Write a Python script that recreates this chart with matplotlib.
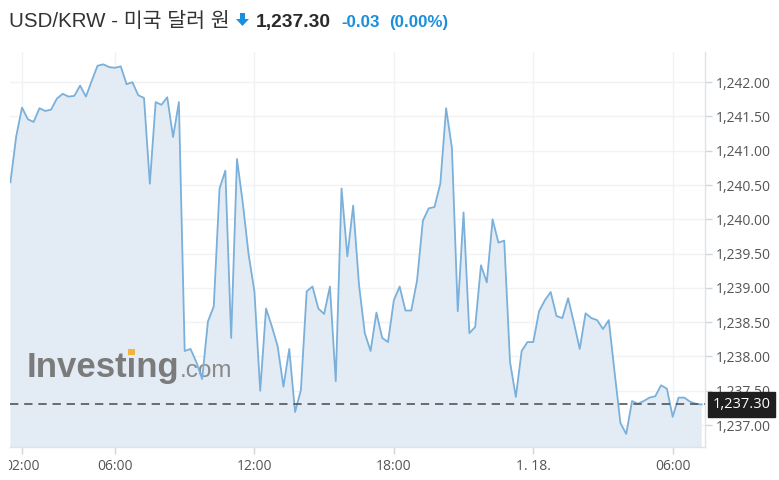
import matplotlib
matplotlib.use("Agg")
import matplotlib.pyplot as plt
import matplotlib.dates as mdates
from matplotlib.patches import Polygon, Rectangle
from matplotlib.transforms import Bbox, TransformedBbox
import numpy as np
import pandas as pd

# USD/KRW intraday quotes, 15 minute steps starting 17 Jan 01:30
start = "2023-01-17 01:30"
prices = [
    1240.54, 1241.21, 1241.63, 1241.46, 1241.42, 1241.62, 1241.58, 1241.60,
    1241.76, 1241.83, 1241.79, 1241.80, 1241.95, 1241.79, 1242.02, 1242.24,
    1242.26, 1242.22, 1242.21, 1242.23, 1241.97, 1242.00, 1241.81, 1241.77,
    1240.52, 1241.71, 1241.67, 1241.78, 1241.20, 1241.71, 1238.08, 1238.11,
    1237.92, 1237.67, 1238.51, 1238.73, 1240.45, 1240.71, 1238.27, 1240.88,
    1240.24, 1239.49, 1238.95, 1237.50, 1238.70, 1238.44, 1238.15, 1237.56,
    1238.11, 1237.19, 1237.51, 1238.95, 1239.02, 1238.70, 1238.62, 1239.02,
    1237.64, 1240.45, 1239.46, 1240.20, 1239.05, 1238.34, 1238.08, 1238.64,
    1238.27, 1238.21, 1238.82, 1239.02, 1238.67, 1238.67, 1239.11, 1239.98,
    1240.16, 1240.18, 1240.52, 1241.62, 1241.04, 1238.66, 1240.10, 1238.34,
    1238.43, 1239.33, 1239.08, 1240.00, 1239.66, 1239.69, 1237.92, 1237.41,
    1238.08, 1238.21, 1238.21, 1238.66, 1238.82, 1238.94, 1238.59, 1238.56,
    1238.85, 1238.49, 1238.11, 1238.63, 1238.56, 1238.53, 1238.40, 1238.53,
    1237.77, 1237.03, 1236.87, 1237.35, 1237.31, 1237.35, 1237.40, 1237.42,
    1237.58, 1237.53, 1237.12, 1237.40, 1237.40, 1237.34, 1237.31, 1237.30,
]
times = pd.date_range(start, periods=len(prices), freq="15min")

last_price = 1237.30
title_text = "USD/KRW - 미국 달러 원"
price_text = "1,237.30"
change_text = "-0.03"
pct_text = "(0.00%)"

tick_times = pd.to_datetime(["2023-01-17 02:00", "2023-01-17 06:00", "2023-01-17 12:00",
                             "2023-01-17 18:00", "2023-01-18 00:00", "2023-01-18 06:00"])
tick_labels = ["02:00", "06:00", "12:00", "18:00", "1. 18.", "06:00"]
y_ticks = [1237.0, 1237.5, 1238.0, 1238.5, 1239.0, 1239.5, 1240.0,
           1240.5, 1241.0, 1241.5, 1242.0]

line_col = "#7ab0da"
fill_col = "#e3ecf4"
blue = "#1a8fdb"
label_col = "#555555"

fig = plt.figure(figsize=(7.79, 4.80), dpi=100)
ax = fig.add_axes([10.4 / 779, 1 - 447 / 480, (705 - 10.4) / 779, (447 - 52) / 480])

x = mdates.date2num(times)
ax.fill_between(x, prices, 1230, color=fill_col, lw=0, zorder=1)
ax.plot(x, prices, color=line_col, lw=1.3, zorder=3)
ax.axhline(last_price, color="#555555", lw=1.2, ls=(0, (5, 3.5)), zorder=4)

x0 = mdates.date2num(pd.Timestamp(start))
ax.set_xlim(x0, x0 + 29.89 / 24)
ax.set_ylim(1236.68, 1242.44)

ax.set_xticks(mdates.date2num(tick_times))
ax.set_xticklabels(tick_labels)
ax.set_yticks(y_ticks)
ax.yaxis.set_major_formatter(plt.FuncFormatter(lambda v, p: f"{v:,.2f}"))
ax.yaxis.tick_right()

ax.grid(axis="y", color="#f2f2f2", lw=1)
ax.grid(axis="x", color="#f0f3f6", lw=1)
ax.set_axisbelow(True)

for s in ["left", "top"]:
    ax.spines[s].set_visible(False)
for s in ["right", "bottom"]:
    ax.spines[s].set_color("#dde3ea")
    ax.spines[s].set_linewidth(1)

ax.tick_params(axis="both", colors="#cfd6de", labelcolor=label_col,
               labelsize=10, length=5, width=1)
ax.tick_params(axis="y", pad=3)
ax.tick_params(axis="x", pad=4)
for lab in ax.get_xticklabels() + ax.get_yticklabels():
    lab.set_family("Open Sans")

# the first time label is cut off by the chart's left edge
clip = TransformedBbox(Bbox([[9 / 779, 0], [1, 1]]), fig.transFigure)
first = ax.get_xticklabels()[0]
first.set_clip_box(clip)
first.set_clip_on(True)

# last price tag on the right axis
ax.annotate(price_text, xy=(1, last_price), xycoords=("axes fraction", "data"),
            xytext=(5.5, 0), textcoords="offset points", ha="left", va="center",
            fontsize=10.5, color="white", family="Open Sans", zorder=10,
            annotation_clip=False,
            bbox=dict(boxstyle="square,pad=0.32", fc="#1f1f1f", ec="#1f1f1f"))

# watermark
ax.text(27 / 779, 1 - 377 / 480, "Investing", transform=fig.transFigure,
        fontsize=25, fontweight="bold", color="#7b7b7b", family="Liberation Sans",
        va="baseline", ha="left", zorder=2)
ax.text(180 / 779, 1 - 377 / 480, ".com", transform=fig.transFigure,
        fontsize=17.5, color="#8a8a8a", family="Liberation Sans",
        va="baseline", ha="left", zorder=2)
fig.patches.append(Rectangle((127.5 / 779, 1 - 355 / 480), 7 / 779, 6.5 / 480,
                             transform=fig.transFigure, fc="#f2b43c", ec="none",
                             zorder=5))

# header line
base = 1 - 27 / 480
fig.text(9 / 779, base, title_text, fontsize=14.8, color="#333333",
         family=["Liberation Sans", "Noto Sans CJK KR"], va="baseline")
arrow = Polygon([[240 / 779, 1 - 13 / 480], [245 / 779, 1 - 13 / 480],
                 [245 / 779, 1 - 19 / 480], [249 / 779, 1 - 19 / 480],
                 [242.5 / 779, 1 - 26 / 480], [236 / 779, 1 - 19 / 480],
                 [240 / 779, 1 - 19 / 480]],
                closed=True, transform=fig.transFigure, fc=blue, ec="none")
fig.patches.append(arrow)
fig.text(256 / 779, base, price_text, fontsize=13.9, fontweight="bold",
         color="#2a2a2a", family="Liberation Sans", va="baseline")
fig.text(341 / 779, base, change_text, fontsize=12.2, fontweight="bold",
         color=blue, family="Liberation Sans", va="baseline")
fig.text(389 / 779, base, pct_text, fontsize=12.2, fontweight="bold",
         color=blue, family="Liberation Sans", va="baseline")

fig.savefig("out.png", dpi=100)
